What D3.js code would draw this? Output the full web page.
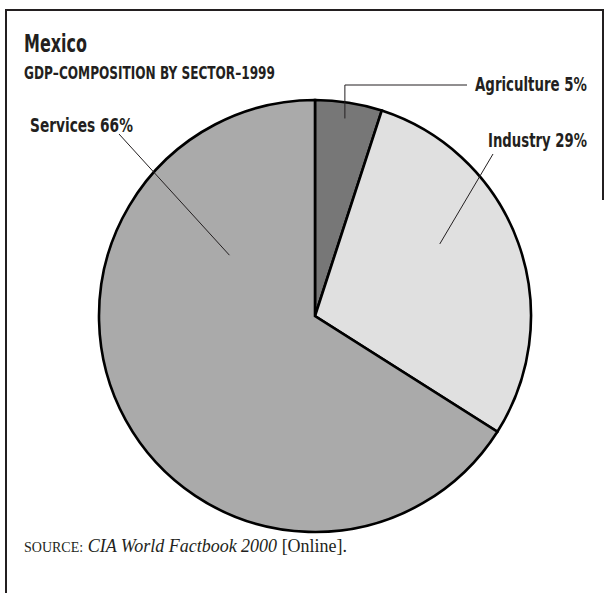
<!DOCTYPE html>
<html>
<head>
<meta charset="utf-8">
<script src="https://cdn.jsdelivr.net/npm/d3@7"></script>
<style>
  html, body { margin: 0; padding: 0; background: #fff; }
  svg { display: block; }
  .cond { font-family: "Liberation Sans Narrow", "DejaVu Sans Condensed", "Arial Narrow", sans-serif; font-weight: bold; font-stretch: condensed; fill: #231f20; }
  .serif { font-family: "Liberation Serif", "Times New Roman", serif; fill: #231f20; }
</style>
</head>
<body>
<script>
// GDP composition by sector, Mexico 1999
const sectors = ["Agriculture", "Industry", "Services"];
const shares = [5, 29, 66];
const sliceColors = ["#777777", "#e0e0e0", "#aaaaaa"];

const width = 608, height = 593;
const cx = 315, cy = 316, radius = 216;

const svg = d3.select("body").append("svg")
  .attr("width", width)
  .attr("height", height);

// open frame: top rule, full-height left rule, short right rule
svg.append("path")
  .attr("d", `M6,${height} L6,10 L603,10 L603,200`)
  .attr("fill", "none")
  .attr("stroke", "#231f20")
  .attr("stroke-width", 2);

// condensed heading text, squeezed horizontally to a set width
function condText(x, y, size, w, str) {
  const grp = svg.append("g");
  const t = grp.append("text").attr("class", "cond")
    .attr("x", 0).attr("y", 0)
    .attr("font-size", size)
    .text(str);
  const natural = t.node().getComputedTextLength();
  grp.attr("transform", `translate(${x},${y}) scale(${w / natural},1)`);
  return t;
}

condText(24, 52, 25, 63, "Mexico");
condText(24, 79, 17.5, 251, "GDP–COMPOSITION BY SECTOR–1999");

// pie
const data = sectors.map((s, i) => ({ sector: s, value: shares[i], color: sliceColors[i] }));
const pie = d3.pie().value(d => d.value).sort(null).startAngle(0).endAngle(2 * Math.PI);
const arcs = pie(data);
const arc = d3.arc().innerRadius(0).outerRadius(radius);

const g = svg.append("g").attr("transform", `translate(${cx},${cy})`);

g.selectAll("path.slice")
  .data(arcs)
  .join("path")
  .attr("class", "slice")
  .attr("d", arc)
  .attr("fill", d => d.data.color)
  .attr("stroke", "#000")
  .attr("stroke-width", 2.6)
  .attr("stroke-linejoin", "miter");

// leader lines: inner anchor given as polar position (degrees clockwise from top, fraction of radius)
function polar(deg, frac) {
  const a = deg * Math.PI / 180;
  return [cx + Math.sin(a) * radius * frac, cy - Math.cos(a) * radius * frac];
}

const leaders = {
  "Agriculture": { anchor: [8.6, 0.925], path: p => `M${p[0]},${p[1]} L${p[0]},85 L467,85`,
                   label: [475, 91, 112] },
  "Industry":    { anchor: [60, 0.667], path: p => `M${p[0]},${p[1]} L493,154`,
                   label: [488, 147, 99] },
  "Services":    { anchor: [305.4, 0.486], path: p => `M${p[0]},${p[1]} L119,134`,
                   label: [30, 132, 103] }
};

arcs.forEach(d => {
  const cfg = leaders[d.data.sector];
  const p = polar(cfg.anchor[0], cfg.anchor[1]);
  svg.append("path")
    .attr("d", cfg.path(p))
    .attr("fill", "none")
    .attr("stroke", "#231f20")
    .attr("stroke-width", 1);
  condText(cfg.label[0], cfg.label[1], 19.5, cfg.label[2], `${d.data.sector} ${d.data.value}%`);
});

// source line
const src = svg.append("text").attr("class", "serif")
  .attr("x", 24).attr("y", 552)
  .attr("font-size", 18);
src.append("tspan").attr("font-size", 14).text("SOURCE:");
src.append("tspan").text(" ");
src.append("tspan").attr("font-style", "italic").text("CIA World Factbook 2000");
src.append("tspan").text(" [Online].");
</script>
</body>
</html>
